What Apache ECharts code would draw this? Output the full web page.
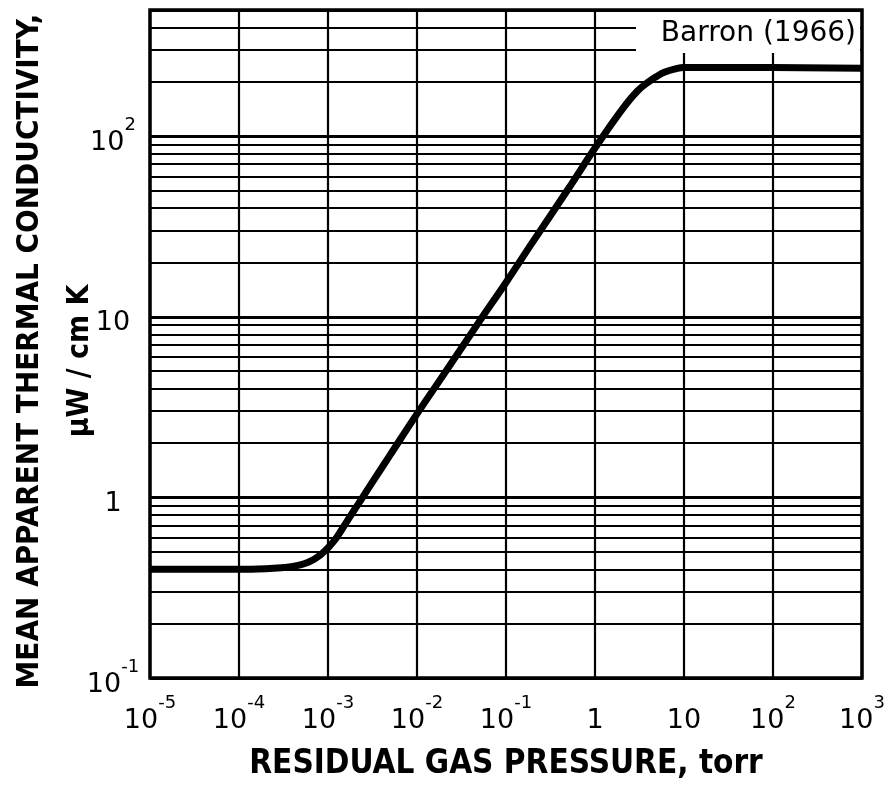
<!DOCTYPE html>
<html>
<head>
<meta charset="utf-8">
<title>Mean apparent thermal conductivity vs residual gas pressure</title>
<script src="https://cdn.jsdelivr.net/npm/echarts@6/dist/echarts.min.js"></script>
<style>
  html, body { margin: 0; padding: 0; background: #fff; }
  #chart { width: 895px; height: 789px; }
</style>
</head>
<body>
<div id="chart"></div>
<script>
// curve (torr, uW/cm K)
var pressure = [1e-5, 3e-5, 1e-4, 2e-4, 3e-4, 4e-4, 5e-4, 6e-4, 7e-4, 8e-4, 9e-4, 1e-3, 1.25e-3, 1.6e-3,
  2e-3, 2.45e-3, 3e-3, 5e-3, 1e-2, 2e-2, 5e-2, 0.1, 0.2, 0.5, 1, 2, 3, 4, 5, 6, 8, 10, 100, 1000];
var conductivity = [0.4, 0.4, 0.4, 0.403, 0.408, 0.415, 0.425, 0.438, 0.455, 0.475, 0.5, 0.525, 0.6, 0.725,
  0.86, 1.0, 1.17, 1.72, 2.9, 4.8, 9.4, 15.5, 26, 51, 86, 140, 178, 200, 215, 226, 236, 240, 240, 238];

// decade exponents shown as tick labels
var xTickExp = [-5, -4, -3, -2, -1, 0, 1, 2, 3];
var yTickExp = [-1, 0, 1, 2];
// the lighter horizontal lines between decades
var yMinorLines = [0.2, 0.3, 0.4, 0.5, 0.6, 0.7, 0.8, 0.9,
  2, 3, 4, 5, 6, 7, 8, 9,
  20, 30, 40, 50, 60, 70, 80, 90,
  200, 300, 400];

var labelFont = "'DejaVu Sans', sans-serif";
var titleFont = "'DejaVu Sans Condensed', 'Liberation Sans Narrow', sans-serif";

function decadeLabel(v, exps) {
  var e = Math.round(Math.log10(v));
  if (Math.abs(Math.log10(v) - e) > 1e-6 || exps.indexOf(e) < 0) return '';
  if (e === 0) return '{b|1}';
  if (e === 1) return '{b|10}';
  return '{b|10}{s|' + e + '}';
}

var rich = {
  b: { fontSize: 27, fontFamily: labelFont, color: '#000', lineHeight: 40, verticalAlign: 'bottom' },
  s: { fontSize: 18, fontFamily: labelFont, color: '#000', lineHeight: 18, verticalAlign: 'top' }
};

var curve = [];
for (var i = 0; i < pressure.length; i++) {
  curve.push([pressure[i], conductivity[i]]);
}

var chart = echarts.init(document.getElementById('chart'));

chart.setOption({
  animation: false,
  backgroundColor: '#fff',
  grid: {
    left: 150, right: 33, top: 10, bottom: 111,
    show: true, borderColor: '#000', borderWidth: 3.5
  },
  xAxis: {
    type: 'log',
    logBase: 10,
    min: 1e-5,
    max: 1e3,
    axisLine: { show: false },
    axisTick: { show: false },
    splitLine: { show: true, lineStyle: { color: '#000', width: 2.2 } },
    axisLabel: {
      margin: 16,
      hideOverlap: false,
      showMinLabel: true,
      showMaxLabel: true,
      formatter: function (v) { return decadeLabel(v, xTickExp); },
      rich: rich
    },
    name: 'RESIDUAL GAS PRESSURE, torr',
    nameLocation: 'middle',
    nameGap: 70,
    nameTextStyle: { fontSize: 33, fontWeight: 'bold', fontFamily: titleFont, color: '#000' }
  },
  yAxis: {
    type: 'log',
    logBase: 10,
    min: 0.1,
    max: 500,
    axisLine: { show: false },
    axisTick: { show: false },
    splitLine: { show: true, lineStyle: { color: '#000', width: 3.2 } },
    axisLabel: {
      margin: 37,
      align: 'center',
      hideOverlap: false,
      formatter: function (v) { return decadeLabel(v, yTickExp); },
      rich: rich
    }
  },
  graphic: [
    {
      type: 'rect', z: 50,
      shape: { x: 636, y: 12, width: 224, height: 41 },
      style: { fill: '#fff' }
    },
    {
      type: 'text', z: 51, x: 856, y: 34,
      style: { text: 'Barron (1966)', fontSize: 28, fontFamily: labelFont, fill: '#000',
        align: 'right', verticalAlign: 'middle' }
    },
    {
      type: 'text', z: 51, x: 30, y: 351, rotation: Math.PI / 2,
      style: { text: 'MEAN APPARENT THERMAL CONDUCTIVITY,', fontSize: 31, fontWeight: 'bold',
        fontFamily: titleFont, fill: '#000', align: 'center', verticalAlign: 'middle' }
    },
    {
      type: 'text', z: 51, x: 80, y: 361, rotation: Math.PI / 2,
      style: { text: 'μW / cm K', fontSize: 30, fontWeight: 'bold',
        fontFamily: titleFont, fill: '#000', align: 'center', verticalAlign: 'middle' }
    }
  ],
  series: [
    {
      // minor grid lines
      type: 'line',
      data: [],
      z: 1,
      silent: true,
      markLine: {
        silent: true,
        symbol: 'none',
        label: { show: false },
        lineStyle: { color: '#000', width: 2, type: 'solid' },
        data: yMinorLines.map(function (v) { return { yAxis: v }; })
      }
    },
    {
      type: 'line',
      data: curve,
      z: 5,
      smooth: 0.4,
      showSymbol: false,
      lineStyle: { color: '#000', width: 7, cap: 'butt', join: 'round' }
    }
  ]
});
</script>
</body>
</html>
